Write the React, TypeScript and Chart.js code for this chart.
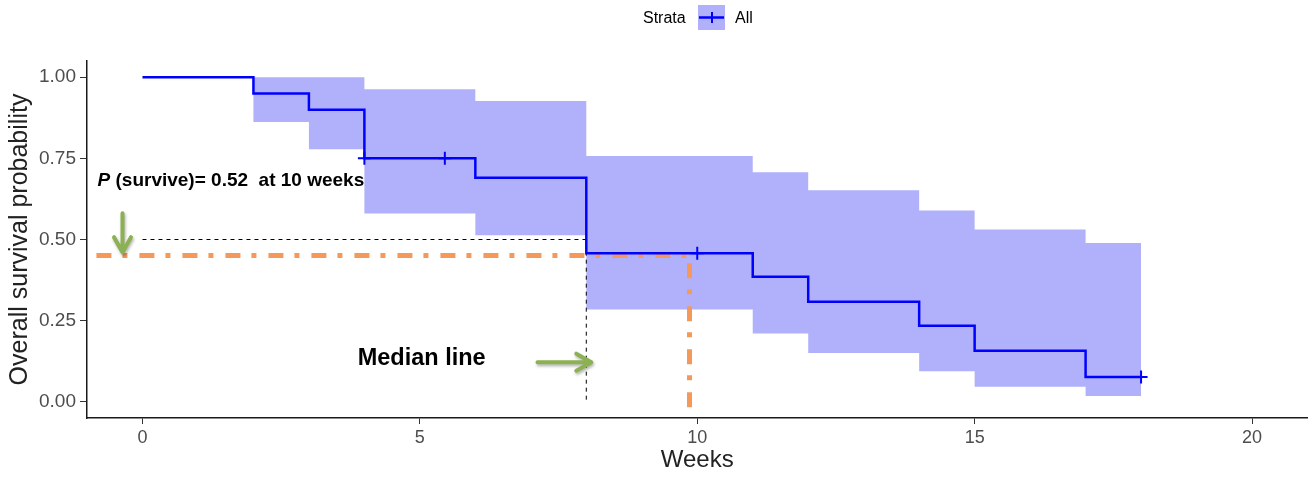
import React, { useEffect, useRef } from 'react';
import { Chart, registerables } from 'chart.js';

Chart.register(...registerables);

// ---- data ----
const times = [0, 2, 3, 4, 6, 8, 11, 12, 14, 15, 17, 18];
const survival = [1.0, 0.95, 0.9, 0.75, 0.69, 0.458, 0.385, 0.308, 0.234, 0.157, 0.076, 0.076];
const upperCI = [1.0, 1.0, 1.0, 0.963, 0.927, 0.757, 0.707, 0.652, 0.589, 0.531, 0.489, 0.489];
const lowerCI = [1.0, 0.862, 0.778, 0.58, 0.513, 0.284, 0.21, 0.15, 0.094, 0.046, 0.018, 0.018];

const censorTimes = [4, 5.45, 10, 18];
const censorSurv = [0.75, 0.75, 0.458, 0.076];

const medianX = [0, 8, 8];
const medianY = [0.5, 0.5, 0];

const orangeHX = [-0.83, 9.84];
const orangeHY = [0.451, 0.451];
const orangeVX = [9.86, 9.86];
const orangeVY = [0.427, -0.02];

const arrowDown = { x0: -0.36, y0: 0.581, x1: -0.36, y1: 0.461 };
const arrowRight = { x0: 7.12, y0: 0.122, x1: 8.09, y1: 0.122 };

const xTicks = [0, 5, 10, 15, 20];
const yTicks = [0, 0.25, 0.5, 0.75, 1.0];

const pLabel = { x: -0.81, y: 0.664, italic: 'P', rest: ' (survive)= 0.52  at 10 weeks' };
const medianLabel = { x: 3.88, y: 0.134, text: 'Median line' };

const legendTitle = 'Strata';
const legendLabel = 'All';

const FONT = '"Liberation Sans", Arial, Helvetica, sans-serif';
const BLUE = '#0000ff';
const BAND = '#b1b1fb';
const ORANGE = '#f5995a';
const GREEN = '#8cb153';

const W = 1316;
const H = 477;

const pts = (xs: number[], ys: number[]) => xs.map((x, i) => ({ x, y: ys[i] }));

export default function App() {
  const ref = useRef<HTMLCanvasElement>(null);

  useEffect(() => {
    const canvas = ref.current;
    if (!canvas) return;

    const drawArrow = (ctx: CanvasRenderingContext2D, a: any, sx: any, sy: any) => {
      const x0 = sx.getPixelForValue(a.x0);
      const y0 = sy.getPixelForValue(a.y0);
      const x1 = sx.getPixelForValue(a.x1);
      const y1 = sy.getPixelForValue(a.y1);
      const ang = Math.atan2(y1 - y0, x1 - x0);
      const hl = 15;
      const hw = 8.5;
      ctx.save();
      ctx.strokeStyle = GREEN;
      ctx.lineWidth = 4;
      ctx.lineCap = 'round';
      ctx.lineJoin = 'round';
      ctx.shadowColor = 'rgba(0,0,0,0.3)';
      ctx.shadowBlur = 3;
      ctx.shadowOffsetX = 1;
      ctx.shadowOffsetY = 2;
      ctx.beginPath();
      ctx.moveTo(x0, y0);
      ctx.lineTo(x1, y1);
      const bx = x1 - Math.cos(ang) * hl;
      const by = y1 - Math.sin(ang) * hl;
      const px = -Math.sin(ang) * hw;
      const py = Math.cos(ang) * hw;
      ctx.moveTo(bx + px, by + py);
      ctx.lineTo(x1, y1);
      ctx.lineTo(bx - px, by - py);
      ctx.stroke();
      ctx.restore();
    };

    const annot = {
      id: 'annot',
      afterDatasetsDraw(chart: any) {
        const { ctx, scales } = chart;
        const sx = scales.x;
        const sy = scales.y;
        drawArrow(ctx, arrowDown, sx, sy);
        drawArrow(ctx, arrowRight, sx, sy);

        ctx.save();
        ctx.fillStyle = '#000';
        ctx.textBaseline = 'alphabetic';
        ctx.textAlign = 'left';
        const px = sx.getPixelForValue(pLabel.x);
        const py = sy.getPixelForValue(pLabel.y);
        ctx.font = `italic bold 19px ${FONT}`;
        ctx.fillText(pLabel.italic, px, py);
        const w = ctx.measureText(pLabel.italic).width;
        ctx.font = `bold 19px ${FONT}`;
        ctx.fillText(pLabel.rest, px + w, py);

        ctx.font = `bold 23.5px ${FONT}`;
        ctx.textBaseline = 'middle';
        ctx.fillText(medianLabel.text, sx.getPixelForValue(medianLabel.x), sy.getPixelForValue(medianLabel.y));
        ctx.restore();
      },
      afterDraw(chart: any) {
        const { ctx } = chart;
        ctx.save();
        ctx.fillStyle = '#000';
        ctx.textBaseline = 'middle';
        ctx.textAlign = 'left';
        ctx.font = `16px ${FONT}`;
        ctx.fillText(legendTitle, 643, 19);
        // key
        ctx.fillStyle = BAND;
        ctx.fillRect(698, 5, 27, 25);
        ctx.strokeStyle = BLUE;
        ctx.lineWidth = 2.5;
        ctx.beginPath();
        ctx.moveTo(699, 17.5);
        ctx.lineTo(724, 17.5);
        ctx.stroke();
        ctx.lineWidth = 2;
        ctx.beginPath();
        ctx.moveTo(712, 12);
        ctx.lineTo(712, 23);
        ctx.stroke();
        ctx.fillStyle = '#000';
        ctx.fillText(legendLabel, 735, 19);
        ctx.restore();
      },
    };

    const chart = new Chart(canvas, {
      type: 'line',
      data: {
        datasets: [
          {
            label: 'upper',
            data: pts(times, upperCI),
            stepped: 'before',
            borderColor: 'transparent',
            borderWidth: 0,
            pointRadius: 0,
            backgroundColor: BAND,
            fill: '+1',
            order: 10,
          },
          {
            label: 'lower',
            data: pts(times, lowerCI),
            stepped: 'before',
            borderColor: 'transparent',
            borderWidth: 0,
            pointRadius: 0,
            fill: false,
            order: 10,
          },
          {
            label: 'orangeH',
            data: pts(orangeHX, orangeHY),
            borderColor: ORANGE,
            borderWidth: 5,
            borderDash: [15, 11, 5, 12],
            pointRadius: 0,
            fill: false,
            order: 6,
          },
          {
            label: 'orangeV',
            data: pts(orangeVX, orangeVY),
            borderColor: ORANGE,
            borderWidth: 5,
            borderDash: [15, 11, 5, 12],
            pointRadius: 0,
            fill: false,
            order: 6,
          },
          {
            label: 'median',
            data: pts(medianX, medianY),
            borderColor: '#000',
            borderWidth: 1,
            borderDash: [4, 4],
            pointRadius: 0,
            fill: false,
            order: 5,
          },
          {
            label: 'All',
            data: pts(times, survival),
            stepped: 'before',
            borderColor: BLUE,
            borderWidth: 2.5,
            pointRadius: 0,
            fill: false,
            order: 2,
          },
          {
            label: 'censor',
            data: pts(censorTimes, censorSurv),
            showLine: false,
            pointStyle: 'cross',
            pointRadius: 6.5,
            pointBorderColor: BLUE,
            pointBorderWidth: 2,
            borderColor: BLUE,
            order: 1,
          },
        ],
      },
      options: {
        animation: false,
        responsive: false,
        maintainAspectRatio: false,
        devicePixelRatio: 1,
        layout: { padding: { top: 61, right: 3, left: 0, bottom: 0 } },
        plugins: {
          legend: { display: false },
          tooltip: { enabled: false },
        },
        scales: {
          x: {
            type: 'linear',
            min: -1,
            max: 21,
            afterBuildTicks: (s: any) => {
              s.ticks = xTicks.map((v) => ({ value: v }));
            },
            afterFit: (s: any) => {
              s.height = 59;
              s.paddingLeft = 0;
              s.paddingRight = 0;
            },
            ticks: {
              font: { size: 18, family: FONT },
              color: '#4d4d4d',
              padding: 3,
              maxRotation: 0,
              autoSkip: false,
              callback: (v: any) => String(v),
            },
            grid: { drawOnChartArea: false, drawTicks: true, tickLength: 6, color: '#333', lineWidth: 1 },
            border: { display: true, color: '#1a1a1a', width: 1.5 },
            title: {
              display: true,
              text: 'Weeks',
              font: { size: 24, family: FONT },
              color: '#222',
              padding: { top: 0, bottom: 2 },
            },
          },
          y: {
            type: 'linear',
            min: -0.05,
            max: 1.05,
            afterBuildTicks: (s: any) => {
              s.ticks = yTicks.map((v) => ({ value: v }));
            },
            afterFit: (s: any) => {
              s.width = 87;
              s.paddingTop = 0;
              s.paddingBottom = 0;
            },
            ticks: {
              font: { size: 19, family: FONT },
              color: '#4d4d4d',
              padding: 4,
              autoSkip: false,
              callback: (v: any) => Number(v).toFixed(2),
            },
            grid: { drawOnChartArea: false, drawTicks: true, tickLength: 7, color: '#333', lineWidth: 1 },
            border: { display: true, color: '#1a1a1a', width: 1.5 },
            title: {
              display: true,
              text: 'Overall survival probability',
              font: { size: 25, family: FONT },
              color: '#222',
              padding: { top: 5, bottom: 0 },
            },
          },
        },
      },
      plugins: [annot],
    } as any);

    return () => chart.destroy();
  }, []);

  return (
    <div style={{ position: 'fixed', left: 0, top: 0, width: W, height: H, background: '#fff' }}>
      <canvas ref={ref} width={W} height={H} style={{ display: 'block', width: W, height: H }} />
    </div>
  );
}
